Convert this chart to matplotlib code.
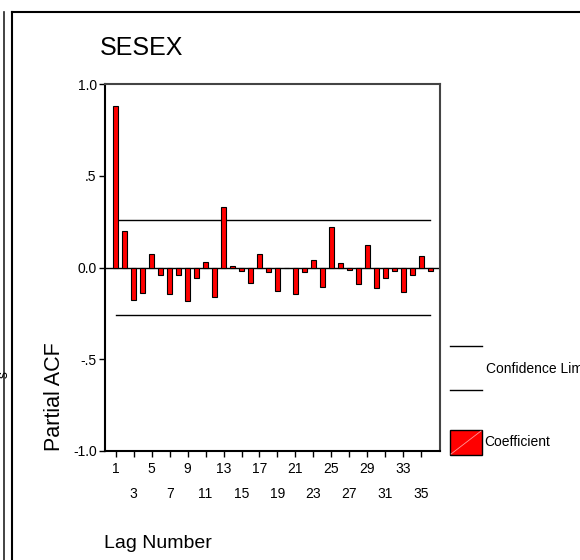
import matplotlib
matplotlib.use("Agg")
import matplotlib.pyplot as plt
from matplotlib.lines import Line2D
from matplotlib.patches import Rectangle
import numpy as np

plt.rcParams['font.family'] = ['Liberation Sans', 'DejaVu Sans']

# partial autocorrelation values
lags = list(range(1, 37))
pacf = [0.878, 0.197, -0.175, -0.137, 0.071, -0.042, -0.144, -0.042, -0.182, -0.058,
        0.031, -0.160, 0.331, 0.007, -0.018, -0.082, 0.071, -0.025, -0.128, -0.005,
        -0.146, -0.025, 0.040, -0.106, 0.222, 0.024, -0.016, -0.089, 0.120, -0.113,
        -0.058, -0.018, -0.135, -0.042, 0.062, -0.018]
conf_limit = 0.26
yticks = [1.0, 0.5, 0.0, -0.5, -1.0]
ytick_labels = ['1.0', '.5', '0.0', '-.5', '-1.0']
xticks_top = [1, 5, 9, 13, 17, 21, 25, 29, 33]
xticks_bottom = [3, 7, 11, 15, 19, 23, 27, 31, 35]

W, H = 580, 560
fig = plt.figure(figsize=(W / 100, H / 100), dpi=100)


def fx(px):
    return px / W


def fy(py):
    return 1 - py / H


ax = fig.add_axes([fx(105), fy(451), fx(440) - fx(105), fy(84) - fy(451)])

ax.bar(lags, pacf, width=0.55, color='#ff0000', edgecolor='black', linewidth=0.8, zorder=3)
ax.axhline(0, color='black', linewidth=1.0, zorder=2)
ax.plot([lags[0], lags[-1]], [conf_limit, conf_limit], color='black', linewidth=1.0)
ax.plot([lags[0], lags[-1]], [-conf_limit, -conf_limit], color='black', linewidth=1.0)

ax.set_xlim(-0.2, 37.1)
ax.set_ylim(-1.0, 1.0)
ax.set_yticks(yticks)
ax.set_yticklabels(ytick_labels, fontsize=10)
ax.set_xticks(xticks_top)
ax.set_xticklabels([str(v) for v in xticks_top], fontsize=10)
ax.set_xticks(xticks_bottom, minor=True)
ax.set_xticklabels([str(v) for v in xticks_bottom], minor=True, fontsize=10)
ax.tick_params(axis='x', which='major', length=4, width=1, pad=4)
ax.tick_params(axis='x', which='minor', length=4, width=1, pad=22)
ax.tick_params(axis='y', length=4, width=1, pad=2)

for side in ['left', 'bottom']:
    ax.spines[side].set_linewidth(1.5)
    ax.spines[side].set_color('black')
for side in ['top', 'right']:
    ax.spines[side].set_linewidth(1.5)
    ax.spines[side].set_color('#444444')

# titles and labels
fig.text(fx(100), fy(48), 'SESEX', fontsize=18, ha='left', va='center')
fig.text(fx(55), fy(397), 'Partial ACF', fontsize=15.5, rotation=90, ha='center', va='center')
fig.text(fx(104), fy(543), 'Lag Number', fontsize=14, ha='left', va='center')

# legend drawn by hand
fig.add_artist(Line2D([fx(450), fx(482)], [fy(346), fy(346)], color='black', linewidth=1.0))
fig.add_artist(Line2D([fx(450), fx(482)], [fy(390), fy(390)], color='black', linewidth=1.0))
fig.text(fx(486), fy(369), 'Confidence Limits', fontsize=10, ha='left', va='center')
fig.add_artist(Rectangle((fx(450), fy(455)), fx(482) - fx(450), fy(430) - fy(455),
                         facecolor='#ff0000', edgecolor='black', linewidth=1.0,
                         transform=fig.transFigure))
fig.add_artist(Line2D([fx(451), fx(481)], [fy(454), fy(431)], color='#ff9a9a', linewidth=0.6))
fig.text(fx(484), fy(442), 'Coefficient', fontsize=10, ha='left', va='center')

# window frame pieces from the screenshot
fig.add_artist(Line2D([fx(4), fx(4)], [0, fy(12)], color='#222222', linewidth=1.2))
fig.add_artist(Line2D([fx(12), fx(12)], [0, fy(12)], color='black', linewidth=1.5))
fig.add_artist(Line2D([fx(12), 1], [fy(12), fy(12)], color='black', linewidth=1.5))
fig.text(fx(-3), fy(375), 's', fontsize=10, rotation=90, ha='left', va='center')

fig.savefig('out.png', dpi=100)
